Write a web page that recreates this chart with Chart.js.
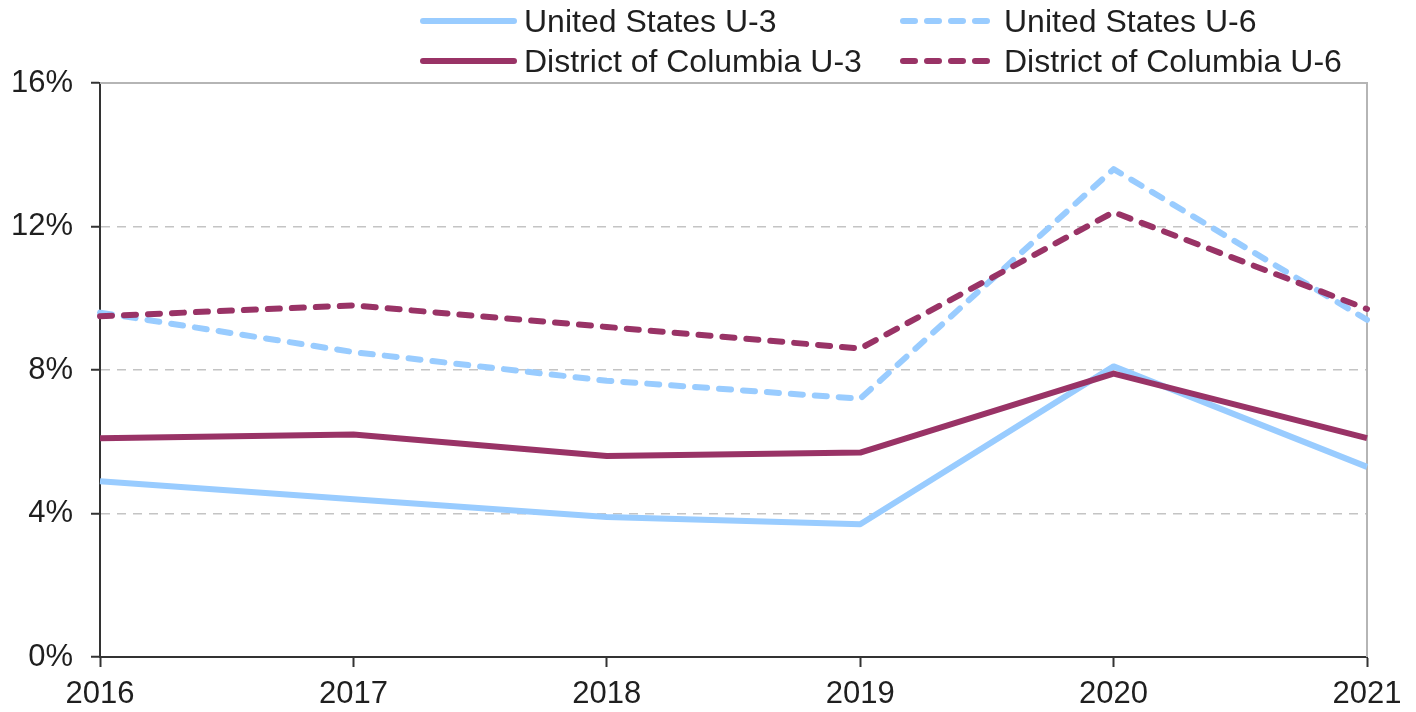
<!DOCTYPE html>
<html>
<head>
<meta charset="utf-8">
<script src="https://cdn.jsdelivr.net/npm/chart.js@4/dist/chart.umd.min.js"></script>
<style>
html,body{margin:0;padding:0;background:#fff;}
</style>
</head>
<body>
<canvas id="chart" width="1416" height="712"></canvas>
<script>
// Data
const years=["2016","2017","2018","2019","2020","2021"];
const usU3=[4.9,4.4,3.9,3.7,8.1,5.3];
const usU6=[9.6,8.5,7.7,7.2,13.6,9.4];
const dcU3=[6.1,6.2,5.6,5.7,7.9,6.1];
const dcU6=[9.5,9.8,9.2,8.6,12.4,9.7];
const yTicks=[0,4,8,12,16];

const BLUE="#99ccff", MAROON="#993366", TEXT="#1f1f1f", AXIS="#333333";
Chart.defaults.font.family="'Liberation Sans', Arial, sans-serif";

// Legend (2 columns, drawn on canvas)
const legendPlugin={
  id:"legend2",
  afterDraw(chart){
    const ctx=chart.ctx;
    const slots=[[420,21],[900,21],[420,61],[900,61]];
    chart.data.datasets.forEach((ds,i)=>{
      const [x,y]=slots[i];
      ctx.save();
      ctx.strokeStyle=ds.borderColor;
      ctx.lineWidth=6;
      ctx.lineCap="round";
      ctx.setLineDash(ds.borderDash||[]);
      ctx.beginPath();ctx.moveTo(x+3,y);ctx.lineTo(x+94,y);ctx.stroke();
      ctx.setLineDash([]);
      ctx.fillStyle=TEXT;
      ctx.font="32px 'Liberation Sans', Arial, sans-serif";
      ctx.textBaseline="middle";
      ctx.fillText(ds.label,x+104,y+2);
      ctx.restore();
    });
  }
};

// Top and right frame lines
const framePlugin={
  id:"frame",
  beforeDatasetsDraw(chart){
    const {ctx,chartArea:a}=chart;
    ctx.save();
    ctx.strokeStyle="#b5b5b5";
    ctx.lineWidth=2;
    ctx.beginPath();
    ctx.moveTo(a.left,a.top);ctx.lineTo(a.right,a.top);ctx.lineTo(a.right,a.bottom);
    ctx.stroke();
    ctx.restore();
  }
};

function line(label,data,color,dashed,order){
  return {label,data,borderColor:color,backgroundColor:color,borderWidth:6,
    borderDash:dashed?[12,12]:[],borderCapStyle:dashed?"round":"butt",borderJoinStyle:"round",
    pointRadius:0,tension:0,fill:false,order};
}

new Chart(document.getElementById("chart"),{
  type:"line",
  data:{labels:years,datasets:[
    line("United States U-3",usU3,BLUE,false,1),
    line("United States U-6",usU6,BLUE,true,1),
    line("District of Columbia U-3",dcU3,MAROON,false,0),
    line("District of Columbia U-6",dcU6,MAROON,true,0)
  ]},
  options:{
    responsive:false,animation:false,
    layout:{padding:{top:83,right:49,left:0,bottom:0}},
    plugins:{legend:{display:false},tooltip:{enabled:false}},
    scales:{
      x:{
        offset:false,
        grid:{drawOnChartArea:false,drawTicks:true,tickLength:10,tickColor:AXIS,tickWidth:2},
        border:{color:AXIS,width:2},
        ticks:{color:TEXT,font:{size:31},padding:9,maxRotation:0,autoSkip:false},
        afterFit(s){s.height=55;}
      },
      y:{
        min:0,max:16,
        afterBuildTicks(s){s.ticks=yTicks.map(v=>({value:v}));},
        grid:{color:c=>(c.tick&&(c.tick.value===0||c.tick.value===16))?"rgba(0,0,0,0)":"#c4c4c4",
          lineWidth:1.5,tickLength:9,tickColor:AXIS,tickWidth:2},
        border:{color:AXIS,width:2,dash:[9,7]},
        ticks:{color:TEXT,font:{size:31},padding:18,callback:v=>v+"%"},
        afterFit(s){s.width=100;}
      }
    }
  },
  plugins:[framePlugin,legendPlugin]
});
</script>
</body>
</html>
